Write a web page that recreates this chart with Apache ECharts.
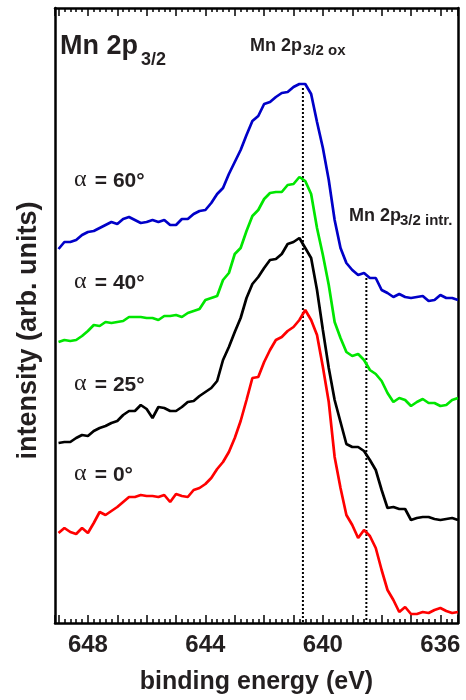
<!DOCTYPE html>
<html>
<head>
<meta charset="utf-8">
<script src="https://cdn.jsdelivr.net/npm/echarts@6/dist/echarts.min.js"></script>
<style>
  html, body { margin: 0; padding: 0; background: #fff; }
  #chart { width: 466px; height: 700px; }
</style>
</head>
<body>
<div id="chart"></div>
<script>
// binding energy (eV), same grid for all four spectra
var energy = [649.0,648.8,648.6,648.4,648.2,648.0,647.8,647.6,647.4,647.2,647.0,646.8,646.6,646.4,646.2,646.0,645.8,645.6,645.4,645.2,645.0,644.8,644.6,644.4,644.2,644.0,643.8,643.6,643.4,643.2,643.0,642.8,642.6,642.4,642.2,642.0,641.8,641.6,641.4,641.2,641.0,640.8,640.6,640.4,640.2,640.0,639.8,639.6,639.4,639.2,639.0,638.8,638.6,638.4,638.2,638.0,637.8,637.6,637.4,637.2,637.0,636.8,636.6,636.4,636.2,636.0,635.8,635.6,635.4];

// intensities (arb. units, curves already offset as in the figure)
var alpha60 = [374,381,381,383,388,391,392,395,398,401,399,404,406,403,400,401,403,401,403,398,398,404,404,409,412,413,420,429,435,449,461,473,488,502,507,519,521,526,530,531,536,539,539,529,501,475,443,403,375,360,353,348,350,345,345,333,330,326,329,326,325,326,327,322,323,328,325,325,323];
var alpha40 = [281,283,282,283,287,292,298,297,301,300,301,302,306,306,306,305,305,303,307,307,308,306,310,312,314,323,325,327,343,350,369,375,392,407,413,424,430,431,431,438,439,446,442,429,395,368,338,301,285,271,267,269,263,253,249,242,230,221,225,223,217,221,224,220,220,217,218,223,225];
var alpha25 = [180,181,181,185,188,187,192,195,197,200,202,208,212,212,218,214,205,216,215,212,212,216,221,222,227,231,235,242,263,276,291,305,325,339,346,355,363,364,369,379,381,385,375,365,333,293,255,223,201,179,176,176,172,163,153,133,115,116,114,114,103,105,106,106,104,103,104,105,103];
var alpha0 = [90,95,91,89,95,90,100,111,108,112,116,121,126,126,128,127,127,126,128,121,129,127,126,133,135,139,145,154,161,171,185,202,223,245,246,261,273,283,286,292,296,303,313,303,288,256,221,166,135,108,98,85,93,87,75,53,33,23,11,16,9,9,11,10,13,15,12,10,11];

var seriesNames = ['α = 60°', 'α = 40°', 'α = 25°', 'α = 0°'];
var seriesColors = ['#0000c8', '#00e600', '#000000', '#ff0000'];

// dotted marker lines: Mn 2p3/2 ox and Mn 2p3/2 intr.
var markerE = [640.68, 638.52];
var markerTop = [535, 345];

// x tick labels shown
var tickLabels = [648, 644, 640, 636];

var sans = '"Liberation Sans", Arial, sans-serif';
var textColor = '#231f20';

function pairs(vals) {
    return energy.map(function (e, i) { return [e, vals[i]]; });
}

var curves = [alpha60, alpha40, alpha25, alpha0];
var series = [];

for (var m = 0; m < markerE.length; m++) {
    series.push({
        type: 'line',
        silent: true,
        symbol: 'none',
        data: [[markerE[m], markerTop[m]], [markerE[m], 0]],
        lineStyle: { color: '#000', width: 2, type: [2, 2] },
        z: 1
    });
}

for (var i = 0; i < curves.length; i++) {
    series.push({
        name: seriesNames[i],
        type: 'line',
        symbol: 'none',
        data: pairs(curves[i]),
        lineStyle: { color: seriesColors[i], width: 2.7 },
        z: 2
    });
}

var chart = echarts.init(document.getElementById('chart'));

// shared x axis settings (bottom one carries the labels, top one only ticks)
function xAxisBase(pos) {
    return {
        type: 'value',
        position: pos,
        inverse: true,
        min: 635.4,
        max: 649.12,
        splitNumber: 14,
        axisLine: { onZero: false, lineStyle: { color: '#000', width: 2.5 } },
        axisTick: { inside: true, length: 8, lineStyle: { color: '#000', width: 1.5 } },
        minorTick: { show: true, splitNumber: 5, length: 4, lineStyle: { color: '#000', width: 1.5 } },
        splitLine: { show: false }
    };
}

var xBottom = xAxisBase('bottom');
xBottom.name = 'binding energy (eV)';
xBottom.nameLocation = 'middle';
xBottom.nameGap = 47;
xBottom.nameTextStyle = { fontFamily: sans, fontWeight: 'bold', fontSize: 25, color: textColor };
xBottom.axisLabel = {
    margin: 10,
    fontFamily: sans,
    fontWeight: 'bold',
    fontSize: 24,
    color: textColor,
    formatter: function (v) {
        var r = Math.round(v);
        if (Math.abs(v - r) < 1e-6 && tickLabels.indexOf(r) >= 0) return String(r);
        return '';
    }
};

var xTop = xAxisBase('top');
xTop.axisLabel = { show: false };

var option = {
    animation: false,
    backgroundColor: '#fff',
    grid: { left: 55, right: 8, top: 8, bottom: 77 },
    xAxis: [xBottom, xTop],
    yAxis: [{
        type: 'value',
        min: 0,
        max: 615,
        name: 'intensity (arb. units)',
        nameLocation: 'middle',
        nameGap: 13,
        nameTextStyle: { fontFamily: sans, fontWeight: 'bold', fontSize: 27, color: textColor, padding: [0, 30, 0, 0] },
        axisLine: { show: true, lineStyle: { color: '#000', width: 2.5 } },
        axisTick: { show: false },
        axisLabel: { show: false },
        splitLine: { show: false }
    }, {
        type: 'value',
        position: 'right',
        min: 0,
        max: 615,
        axisLine: { show: true, lineStyle: { color: '#000', width: 2.5 } },
        axisTick: { show: false },
        axisLabel: { show: false },
        splitLine: { show: false }
    }],
    graphic: [
        // panel title
        { type: 'text', x: 60, y: 47, style: { text: 'Mn 2p', font: 'bold 27px ' + sans, fill: textColor, verticalAlign: 'middle' } },
        { type: 'text', x: 141, y: 60, style: { text: '3/2', font: 'bold 18px ' + sans, fill: textColor, verticalAlign: 'middle' } },
        // peak labels
        { type: 'text', x: 250, y: 46, style: { text: 'Mn 2p', font: 'bold 18px ' + sans, fill: textColor, verticalAlign: 'middle' } },
        { type: 'text', x: 303, y: 51, style: { text: '3/2 ox', font: 'bold 15px ' + sans, fill: textColor, verticalAlign: 'middle' } },
        { type: 'text', x: 349, y: 216, style: { text: 'Mn 2p', font: 'bold 18px ' + sans, fill: textColor, verticalAlign: 'middle' } },
        { type: 'text', x: 400, y: 221, style: { text: '3/2 intr.', font: 'bold 15px ' + sans, fill: textColor, verticalAlign: 'middle' } },
        // angle labels
        { type: 'text', x: 74, y: 180, style: { text: 'α', font: '24px "Liberation Serif", serif', fill: textColor, verticalAlign: 'middle' } },
        { type: 'text', x: 89, y: 181, style: { text: ' = 60°', font: 'bold 21px ' + sans, fill: textColor, verticalAlign: 'middle' } },
        { type: 'text', x: 74, y: 282, style: { text: 'α', font: '24px "Liberation Serif", serif', fill: textColor, verticalAlign: 'middle' } },
        { type: 'text', x: 89, y: 283, style: { text: ' = 40°', font: 'bold 21px ' + sans, fill: textColor, verticalAlign: 'middle' } },
        { type: 'text', x: 74, y: 384, style: { text: 'α', font: '24px "Liberation Serif", serif', fill: textColor, verticalAlign: 'middle' } },
        { type: 'text', x: 89, y: 385, style: { text: ' = 25°', font: 'bold 21px ' + sans, fill: textColor, verticalAlign: 'middle' } },
        { type: 'text', x: 74, y: 474, style: { text: 'α', font: '24px "Liberation Serif", serif', fill: textColor, verticalAlign: 'middle' } },
        { type: 'text', x: 89, y: 475, style: { text: ' = 0°', font: 'bold 21px ' + sans, fill: textColor, verticalAlign: 'middle' } }
    ],
    series: series
};

chart.setOption(option);
</script>
</body>
</html>
